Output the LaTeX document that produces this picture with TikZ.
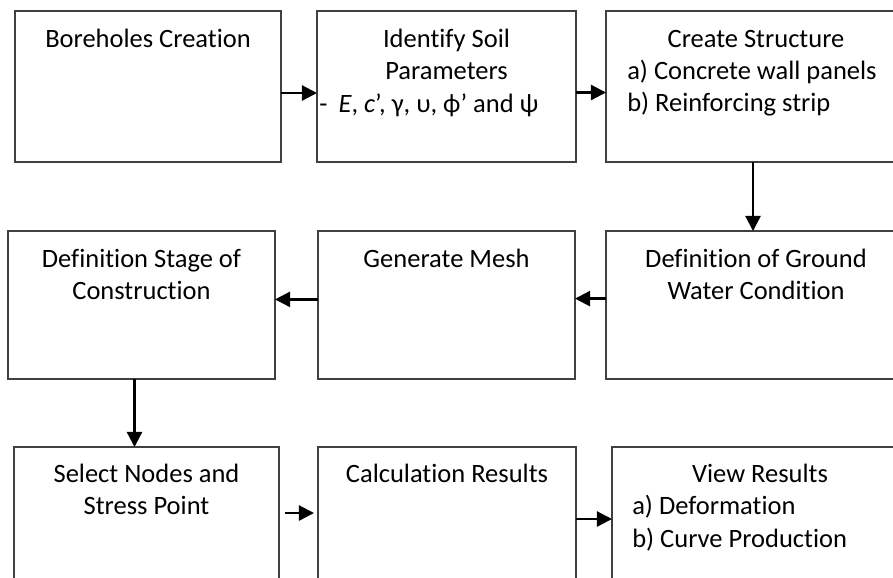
\documentclass[tikz,border=0pt]{standalone}
\usepackage{fontspec}
\setmainfont[Ligatures=NoCommon]{Carlito}
\usepackage{tikz}
\usetikzlibrary{arrows.meta, positioning}
\newcommand{\flowfont}{\fontsize{18.85pt}{23.1pt}\selectfont}

\begin{document}
\begin{tikzpicture}[
  box/.style={draw=black!75, line width=0.9pt, minimum height=3.775cm, inner sep=0pt, outer sep=0pt},
  title/.style={inner sep=0pt, align=center, font=\flowfont},
  items/.style={inner sep=0pt, align=left, font=\flowfont},
  flow/.style={-{Triangle[length=0.38cm, width=0.38cm]}, line width=1.6pt}
]
  \clip (0,0) rectangle (22.325,-14.425);

  % --- Row 1 ---
  \node[box, minimum width=6.65cm] (boreholes) at (3.7,-2.1625) {};
  \node[title, below=0.325cm of boreholes.north] (boreholes-t) {\strut Boreholes Creation};

  \node[box, minimum width=6.475cm] (soil) at (11.1625,-2.1625) {};
  \node[title, below=0.325cm of soil.north] (soil-t) {\strut Identify Soil\\Parameters};
  \node[items, below right=1.95cm and 0.05cm of soil.north west] (soil-l)
    {\strut -\hspace{0.28cm}\textit{E}, \textit{c}’, γ, υ, ϕ’ and ψ};

  \node[box, minimum width=7.5cm] (structure) at (18.9,-2.1625) {};
  \node[title, below=0.325cm of structure.north] (structure-t) {\strut Create Structure};
  \node[items, below right=1.1375cm and 0.525cm of structure.north west] (structure-l)
    {\strut a) Concrete wall panels\\b) Reinforcing strip};

  % --- Row 2 ---
  \node[box, minimum width=6.675cm, minimum height=3.7cm] (stage) at (3.5375,-7.625) {};
  \node[title, below=0.325cm of stage.north] (stage-t) {\strut Definition Stage of\\Construction};

  \node[box, minimum width=6.425cm, minimum height=3.7cm] (mesh) at (11.1625,-7.625) {};
  \node[title, below=0.325cm of mesh.north] (mesh-t) {\strut Generate Mesh};

  \node[box, minimum width=7.5cm, minimum height=3.7cm] (water) at (18.9,-7.625) {};
  \node[title, below=0.325cm of water.north] (water-t) {\strut Definition of Ground\\Water Condition};

  % --- Row 3 ---
  \node[box, minimum width=6.625cm] (select) at (3.6625,-13.0625) {};
  \node[title, below=0.3cm of select.north] (select-t) {\strut Select Nodes and\\Stress Point};

  \node[box, minimum width=6.45cm] (calc) at (11.175,-13.0625) {};
  \node[title, below=0.3cm of calc.north] (calc-t) {\strut Calculation Results};

  \node[box, minimum width=7.4cm] (view) at (19.0,-13.0625) {};
  \node[title, below=0.3cm of view.north] (view-t) {\strut View Results};
  \node[items, below right=1.1125cm and 0.5cm of view.north west] (view-l)
    {\strut a) Deformation\\b) Curve Production};

  % Arrows
  \draw[flow] ([yshift=-0.1625cm]boreholes.east) -- ([yshift=-0.1625cm]soil.west);
  \draw[flow] ([yshift=-0.15cm]soil.east) -- ([yshift=-0.15cm]structure.west);
  \draw[flow] ([xshift=-0.075cm]structure.south) -- ([xshift=-0.075cm]structure.south |- water.north);
  \draw[flow] ([yshift=0.16cm]water.west) -- ([yshift=0.16cm]mesh.east);
  \draw[flow] ([yshift=0.14cm]mesh.west) -- ([yshift=0.14cm]stage.east);
  \draw[flow] ([xshift=-0.175cm]stage.south) -- ([xshift=-0.175cm]stage.south |- select.north);
  \draw[flow, shorten <=0.15cm, shorten >=0.1cm] ([yshift=0.2375cm]select.east) -- ([yshift=0.2375cm]calc.west);
  \draw[flow] ([yshift=0.0875cm]calc.east) -- ([yshift=0.0875cm]view.west);
\end{tikzpicture}
\end{document}
